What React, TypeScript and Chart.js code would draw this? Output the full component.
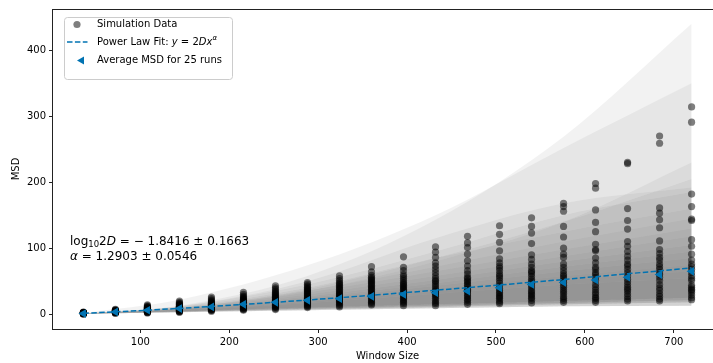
import { useEffect, useRef } from "react";
import { Chart, registerables } from "chart.js";

Chart.register(...registerables);

const FONT = '"DejaVu Sans", "Liberation Sans", sans-serif';
const BLUE = "#0173b2";
const BAND_COLOR = "rgba(128,128,128,0.1)";

// Window sizes used for the MSD calculation
const WINDOW_SIZES = [36, 72, 108, 144, 180, 216, 252, 288, 324, 360, 396, 432, 468, 504, 540, 576, 612, 648, 684, 720];
const X_TICKS = [100, 200, 300, 400, 500, 600, 700];
const Y_TICKS = [0, 100, 200, 300, 400];

// MSD of every run, one list per window size
const SIM_W036 = [0.5, 0.7, 0.8, 0.9, 1, 1, 1.1, 1.2, 1.2, 1.3, 1.4, 1.4, 1.5, 1.5, 1.6, 1.7, 1.8, 1.9, 2, 2.1, 2.2, 2.4, 2.6, 2.8, 3.2];
const SIM_W072 = [1.5, 2, 2.2, 2.4, 2.6, 2.8, 3, 3.1, 3.2, 3.3, 3.5, 3.6, 3.7, 3.8, 4, 4.1, 4.3, 4.5, 4.7, 5, 5.3, 5.6, 6, 6.5, 7.5];
const SIM_W108 = [2, 2.5, 3, 3.4, 3.8, 4.2, 4.6, 5, 5.3, 5.6, 6, 6.3, 6.6, 7, 7.3, 7.7, 8, 8.5, 9, 9.5, 10, 10.7, 11.5, 12.5, 14];
const SIM_W144 = [3, 3.6, 4.2, 4.8, 5.4, 6, 6.5, 7, 7.5, 8, 8.5, 9, 9.5, 10, 10.5, 11, 11.6, 12.2, 13, 13.8, 14.6, 15.5, 16.5, 18, 20];
const SIM_W180 = [4.5, 5.5, 6.3, 7, 7.7, 8.4, 9, 9.6, 10.2, 10.8, 11.4, 12, 12.6, 13.2, 13.8, 14.5, 15.2, 16, 16.8, 17.7, 18.8, 20, 21.5, 23.5, 26];
const SIM_W216 = [6, 7, 8, 9, 10, 10.8, 11.6, 12.4, 13.2, 14, 14.8, 15.6, 16.4, 17.2, 18, 19, 20, 21, 22, 23, 24.5, 26, 27.5, 30, 33];
const SIM_W252 = [7, 8.5, 10, 11.2, 12.4, 13.6, 14.8, 16, 17.2, 18.4, 19.6, 20.8, 22, 23.2, 24.4, 25.6, 27, 28.4, 30, 31.5, 33, 35, 37.5, 40, 43];
const SIM_W288 = [10, 11.5, 13, 14.5, 16, 17.5, 19, 20.3, 21.6, 22.9, 24.2, 25.5, 27, 28.5, 30, 31.5, 33, 34.5, 36, 37.5, 39, 41, 43, 45.5, 48];
const SIM_W324 = [11, 13, 15, 17, 18.5, 20, 21.5, 23, 24.5, 26, 27.5, 29, 30.5, 32, 34, 36, 38, 40, 42, 44, 46, 48, 51, 54, 58];
const SIM_W360 = [14, 16, 18, 20, 22, 24, 26, 28, 30, 32, 34, 36, 38, 40, 42, 44, 46, 48, 50, 52, 54, 56, 59, 64, 72];
const SIM_W396 = [13, 16, 18, 20, 22, 24, 26, 28, 30, 32, 34, 36, 38, 40, 42, 44, 46, 48, 51, 54, 57, 60, 66, 71, 87];
const SIM_W432 = [13, 16, 18, 21, 24, 27, 29, 31, 33, 35, 37, 40, 43, 46, 49, 51, 54, 58, 63, 68, 73, 78, 86, 94, 102];
const SIM_W468 = [15, 18, 21, 23, 26, 28, 31, 34, 36, 38, 41, 44, 46, 49, 51, 54, 56, 61, 66, 73, 81, 91, 101, 108, 118];
const SIM_W504 = [16, 18, 21, 24, 26, 28, 31, 33, 36, 39, 43, 47, 51, 55, 58, 61, 66, 70, 73, 78, 84, 96, 109, 121, 134];
const SIM_W540 = [17, 21, 24, 26, 29, 31, 34, 36, 40, 43, 47, 50, 53, 57, 61, 64, 66, 71, 76, 83, 90, 107, 123, 133, 146];
const SIM_W576 = [18, 21, 24, 27, 31, 34, 37, 41, 44, 48, 51, 55, 58, 61, 66, 71, 76, 86, 91, 100, 117, 133, 156, 163, 168];
const SIM_W612 = [18, 21, 24, 26, 30, 33, 37, 41, 45, 51, 56, 60, 63, 68, 71, 78, 85, 96, 98, 106, 125, 139, 158, 191, 198];
const SIM_W648 = [20, 23, 27, 31, 35, 38, 41, 45, 49, 53, 58, 63, 68, 73, 76, 82, 88, 95, 103, 110, 129, 142, 160, 228, 230];
const SIM_W684 = [20, 23, 27, 31, 36, 40, 45, 51, 56, 60, 63, 68, 72, 76, 82, 86, 92, 98, 111, 131, 143, 153, 161, 259, 270];
const SIM_W720 = [22, 25, 29, 33, 36, 38, 41, 44, 51, 54, 58, 63, 68, 72, 76, 82, 91, 103, 113, 142, 144, 163, 182, 291, 314];

const SIM_COLUMNS = [
  SIM_W036, SIM_W072, SIM_W108, SIM_W144, SIM_W180, SIM_W216, SIM_W252, SIM_W288, SIM_W324, SIM_W360,
  SIM_W396, SIM_W432, SIM_W468, SIM_W504, SIM_W540, SIM_W576, SIM_W612, SIM_W648, SIM_W684, SIM_W720,
];

// Mean MSD over the 25 runs
const AVG_MSD = [1, 3.5, 6, 8.5, 11, 15, 18, 21, 23.5, 27, 30, 32.5, 35, 40, 45, 48, 52, 56, 60, 65];

// Power-law fit y = 2D x^alpha, log10(2D) = -1.8416, alpha = 1.2903
const FIT_MSD = [1.47, 3.6, 6.07, 8.79, 11.73, 14.84, 18.1, 21.51, 25.04, 28.68, 32.44, 36.29, 40.23, 44.29, 48.41, 52.6, 56.89, 61.24, 65.66, 70.16];

// Per-run spread bands (lower / upper bound at BAND_X)
const BAND_X = [36, 144, 288, 432, 576, 720];
const BAND_UPPERS = [
  [0.6, 13, 58, 143, 269, 440],
  [2, 22, 74, 150, 252, 350],
  [1, 12, 50, 115, 168, 192],
  [0.5, 8, 35, 80, 140, 230],
  [0.5, 9, 38, 85, 140, 205],
  [1, 12, 45, 95, 150, 185],
  [1, 11, 40, 85, 125, 160],
  [1, 10, 36, 72, 110, 145],
  [1, 10, 33, 65, 98, 130],
  [1, 9, 30, 58, 88, 118],
  [1, 8, 27, 52, 80, 105],
  [1, 8, 25, 47, 72, 95],
  [1, 7, 23, 43, 65, 85],
  [1, 7, 21, 39, 58, 75],
  [1, 6, 19, 35, 52, 65],
  [1, 6, 17, 31, 45, 55],
];
const BAND_LOWERS = [
  [0.5, 3, 6, 9, 12, 13],
  [0.6, 3.5, 7.5, 11, 15, 18],
  [0.8, 4.5, 10, 15, 20, 25],
  [0.6, 4, 8.5, 13, 17, 21],
  [0.5, 3, 6, 9, 12, 13],
  [0.6, 3.5, 7.5, 11, 15, 18],
  [0.8, 4.5, 10, 15, 20, 25],
  [0.6, 4, 8.5, 13, 17, 21],
  [0.5, 3, 6, 9, 12, 13],
  [0.6, 3.5, 7.5, 11, 15, 18],
  [0.8, 4.5, 10, 15, 20, 25],
  [0.6, 4, 8.5, 13, 17, 21],
  [0.5, 3, 6, 9, 12, 13],
  [0.6, 3.5, 7.5, 11, 15, 18],
  [0.8, 4.5, 10, 15, 20, 25],
  [0.6, 4, 8.5, 13, 17, 21],
];

type Run = { text: string; italic?: boolean; size: number; dy?: number };

function drawRuns(ctx: CanvasRenderingContext2D, x: number, y: number, runs: Run[]) {
  ctx.textAlign = "left";
  ctx.textBaseline = "middle";
  let cx = x;
  for (const r of runs) {
    ctx.font = `${r.italic ? "italic " : ""}${r.size}px ${FONT}`;
    ctx.fillText(r.text, cx, y + (r.dy || 0));
    cx += ctx.measureText(r.text).width;
  }
}

const decorations = {
  id: "decorations",
  afterDraw(chart: any) {
    const ctx: CanvasRenderingContext2D = chart.ctx;
    const a = chart.chartArea;
    ctx.save();

    // axes frame
    ctx.strokeStyle = "#222";
    ctx.lineWidth = 1;
    ctx.strokeRect(Math.round(a.left) - 0.5, Math.round(a.top) + 0.5, Math.round(a.right - a.left), Math.round(a.bottom - a.top));

    ctx.fillStyle = "#000";
    // axis titles
    ctx.font = `10px ${FONT}`;
    ctx.textAlign = "center";
    ctx.textBaseline = "middle";
    ctx.fillText("Window Size", (a.left + a.right) / 2, 356);
    ctx.save();
    ctx.translate(16, (a.top + a.bottom) / 2);
    ctx.rotate(-Math.PI / 2);
    ctx.fillText("MSD", 0, 0);
    ctx.restore();

    // fit parameters
    drawRuns(ctx, 70, 242, [
      { text: "log", size: 12 },
      { text: "10", size: 8.5, dy: 3 },
      { text: "2", size: 12 },
      { text: "D", size: 12, italic: true },
      { text: " = − 1.8416 ± 0.1663", size: 12 },
    ]);
    drawRuns(ctx, 70, 256.5, [
      { text: "α", size: 12, italic: true },
      { text: " = 1.2903 ± 0.0546", size: 12 },
    ]);

    // legend
    const lx = 64, ly = 17, lw = 168, lh = 62;
    ctx.beginPath();
    ctx.roundRect(lx + 0.5, ly + 0.5, lw, lh, 3);
    ctx.fillStyle = "rgba(255,255,255,0.8)";
    ctx.fill();
    ctx.strokeStyle = "#cccccc";
    ctx.lineWidth = 1;
    ctx.stroke();

    ctx.fillStyle = "rgba(0,0,0,0.5)";
    ctx.beginPath();
    ctx.arc(77, 24.5, 3.6, 0, Math.PI * 2);
    ctx.fill();

    ctx.strokeStyle = BLUE;
    ctx.lineWidth = 1.5;
    ctx.setLineDash([5.5, 2.4]);
    ctx.beginPath();
    ctx.moveTo(67, 42);
    ctx.lineTo(87.5, 42);
    ctx.stroke();
    ctx.setLineDash([]);

    ctx.fillStyle = BLUE;
    ctx.beginPath();
    ctx.moveTo(77, 60.5);
    ctx.lineTo(84, 56.5);
    ctx.lineTo(84, 64.5);
    ctx.closePath();
    ctx.fill();

    ctx.fillStyle = "#000";
    drawRuns(ctx, 97, 24.5, [{ text: "Simulation Data", size: 10 }]);
    drawRuns(ctx, 97, 42, [
      { text: "Power Law Fit: ", size: 10 },
      { text: "y", size: 10, italic: true },
      { text: " = ", size: 10 },
      { text: "2", size: 10 },
      { text: "Dx", size: 10, italic: true },
      { text: "α", size: 7, italic: true, dy: -4 },
    ]);
    drawRuns(ctx, 97, 60.5, [{ text: "Average MSD for 25 runs", size: 10 }]);

    ctx.restore();
  },
};

export default function App() {
  const ref = useRef<HTMLCanvasElement>(null);

  useEffect(() => {
    const bandSets: any[] = [];
    BAND_UPPERS.forEach((upper, i) => {
      const common = {
        type: "line",
        showLine: true,
        borderWidth: 0,
        borderColor: "rgba(0,0,0,0)",
        pointRadius: 0,
        cubicInterpolationMode: "monotone",
        order: 10,
      };
      bandSets.push({ ...common, data: BAND_X.map((x, j) => ({ x, y: BAND_LOWERS[i][j] })), fill: false });
      bandSets.push({ ...common, data: BAND_X.map((x, j) => ({ x, y: upper[j] })), fill: "-1", backgroundColor: BAND_COLOR });
    });

    const simPoints = SIM_COLUMNS.flatMap((col, i) => col.map((v) => ({ x: WINDOW_SIZES[i], y: v })));

    const chart = new Chart(ref.current!, {
      type: "scatter",
      data: {
        datasets: [
          ...bandSets,
          {
            type: "scatter",
            label: "Simulation Data",
            data: simPoints,
            pointRadius: 3.6,
            backgroundColor: "rgba(0,0,0,0.5)",
            borderWidth: 0,
            order: 3,
          },
          {
            type: "line",
            label: "Power Law Fit",
            data: WINDOW_SIZES.map((x, i) => ({ x, y: FIT_MSD[i] })),
            showLine: true,
            borderColor: BLUE,
            borderWidth: 1.5,
            borderDash: [5.5, 2.4],
            pointRadius: 0,
            fill: false,
            tension: 0,
            order: 2,
          },
          {
            type: "scatter",
            label: "Average MSD for 25 runs",
            data: WINDOW_SIZES.map((x, i) => ({ x, y: AVG_MSD[i] })),
            pointStyle: "triangle",
            rotation: -90,
            pointRadius: 5,
            backgroundColor: BLUE,
            borderWidth: 0,
            order: 1,
          },
        ] as any,
      },
      options: {
        responsive: false,
        animation: false,
        devicePixelRatio: 1,
        events: [],
        layout: { padding: { top: 5, right: 8, bottom: 0, left: 0 } },
        plugins: { legend: { display: false }, tooltip: { enabled: false } },
        scales: {
          x: {
            type: "linear",
            min: 1.8,
            max: 754.2,
            afterBuildTicks: (s: any) => {
              s.ticks = X_TICKS.map((value) => ({ value }));
            },
            afterFit: (s: any) => {
              s.height = 34;
            },
            grid: { drawOnChartArea: false, drawTicks: true, tickLength: 4, color: "#222", lineWidth: 1 },
            border: { display: false },
            ticks: { font: { family: FONT, size: 10 }, color: "#000", padding: 3, maxRotation: 0 },
          },
          y: {
            type: "linear",
            min: -22.4,
            max: 462.4,
            afterBuildTicks: (s: any) => {
              s.ticks = Y_TICKS.map((value) => ({ value }));
            },
            afterFit: (s: any) => {
              s.width = 53;
            },
            grid: { drawOnChartArea: false, drawTicks: true, tickLength: 4, color: "#222", lineWidth: 1 },
            border: { display: false },
            ticks: { font: { family: FONT, size: 10 }, color: "#000", padding: 3 },
          },
        },
      },
      plugins: [decorations],
    } as any);
    return () => chart.destroy();
  }, []);

  return (
    <div style={{ position: "fixed", left: 0, top: 0, width: 713, height: 363, overflow: "hidden", background: "#fff" }}>
      <canvas ref={ref} width={730} height={363} style={{ display: "block", width: 730, height: 363 }} />
    </div>
  );
}
